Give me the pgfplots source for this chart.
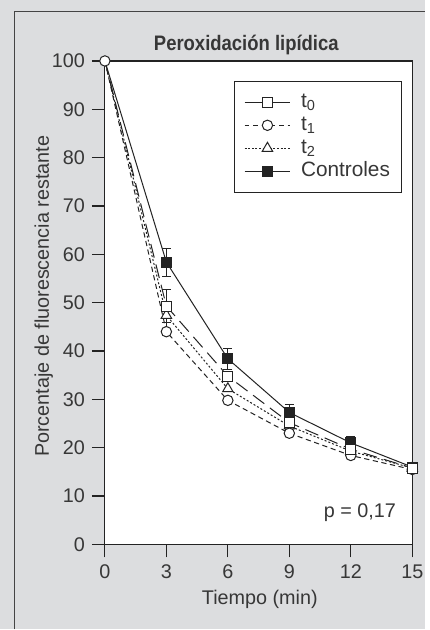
\documentclass[border=0pt]{standalone}
\usepackage{fontspec}
\setmainfont{Liberation Sans}
\newfontfamily\condfont[FakeStretch=0.88]{Liberation Sans}
\usepackage{pgfplots}
\pgfplotsset{compat=1.18}
\definecolor{bgc}{RGB}{220,221,223}
\definecolor{inkc}{RGB}{35,35,35}
\definecolor{txtc}{RGB}{55,55,55}

\begin{document}
\begin{tikzpicture}[x=1pt,y=1pt]
% grey panel, framed on the left and top only
\fill[bgc] (0,0) rectangle (212.5,315);
\draw[inkc!85, line width=0.65pt] (7.35,0) -- (7.35,309.15) -- (212.5,309.15);

\begin{axis}[
  at={(52.5pt,42.5pt)}, anchor=south west, scale only axis,
  width=153.85pt, height=242pt,
  xmin=0, xmax=15, ymin=0, ymax=100,
  xtick={0,3,...,15}, ytick={0,10,...,100},
  tick align=outside, tick pos=left, major tick length=6.5pt,
  axis line style={inkc, line width=0.6pt},
  every tick/.style={inkc, line width=0.6pt},
  axis background/.style={fill=white},
  font=\fontsize{9.9}{11.5}\selectfont,
  ticklabel style={txtc, font=\fontsize{9.9}{11.5}\selectfont},
  /pgf/number format/assume math mode=true,
  xlabel={Tiempo (min)}, ylabel={Porcentaje de fluorescencia restante},
  xlabel style={at={(axis description cs:0.504,-0.124)}, anchor=base, txtc},
  ylabel style={at={(axis description cs:-0.182,0.513)}, anchor=base, txtc},
  clip=false,
  legend style={at={(axis description cs:0.419,0.959)}, anchor=north west,
    draw=inkc, line width=0.5pt, fill=white, text=txtc,
    inner xsep=5pt, inner ysep=5.3pt, row sep=1.0pt, column sep=4.5pt,
    font=\fontsize{10.4}{12}\selectfont,
    nodes={text height=7.2pt, text depth=2.1pt, inner sep=0.6pt},
    cells={anchor=west}},
  legend image code/.code={%
    \draw[mark repeat=2, mark phase=2, #1]
      plot coordinates {(0pt,0pt) (11.4pt,0pt) (22.85pt,0pt)};},
  every axis plot/.append style={inkc, line width=0.5pt},
  error bars/error bar style={solid, line width=0.5pt},
  error bars/error mark options={rotate=90, mark size=2.25pt, line width=0.5pt},
]
% Controles
\addplot[solid, mark=square*, mark size=2.5pt, mark indices={2,3,4,5,6},
  mark options={solid, fill=inkc}, forget plot,
  error bars/.cd, y dir=both, y explicit]
  coordinates {(0,100) (3,58.4) +- (0,2.9) (6,38.4) +- (0,2.2)
               (9,27.3) +- (0,1.7) (12,21.0) +- (0,1.3) (15,16.0) +- (0,0.4)};
% t2
\addplot[dash pattern=on 1pt off 1pt, mark=triangle*, mark size=3pt,
  mark indices={2,3,4,5,6}, mark options={solid, fill=white}, forget plot]
  coordinates {(0,100) (3,47.4) (6,32.2) (9,24.5) (12,19.3) (15,15.8)};
% t1
\addplot[dash pattern=on 2.6pt off 1.8pt, mark=*, mark size=2.6pt,
  mark options={solid, fill=white}, forget plot,
  error bars/.cd, y dir=plus, y explicit]
  coordinates {(0,100) (3,44.0) +- (0,2.0) (6,29.8) (9,23.0) (12,18.4) (15,15.5)};
% t0
\addplot[dash pattern=on 7pt off 3.5pt, mark=square*, mark size=2.5pt,
  mark indices={2,3,4,5,6}, mark options={solid, fill=white}, forget plot,
  error bars/.cd, y dir=both, y explicit]
  coordinates {(0,100) (3,49.3) +- (0,3.5) (6,34.8) (9,25.2) (12,19.7) (15,15.8)};

\addlegendimage{solid, mark=square*, mark size=2.5pt, mark options={fill=white}}
\addlegendentry{t\textsubscript{0}}
\addlegendimage{dash pattern=on 2.3pt off 2pt, mark=*, mark size=2.6pt,
  mark options={solid, fill=white}}
\addlegendentry{t\textsubscript{1}}
\addlegendimage{dash pattern=on 1pt off 0.8pt, mark=triangle*, mark size=3pt,
  mark options={solid, fill=white}}
\addlegendentry{t\textsubscript{2}}
\addlegendimage{solid, mark=square*, mark size=2.5pt, mark options={fill=inkc}}
\addlegendentry{Controles}

\node[anchor=east, txtc] at (axis cs:14.55,6.6) {p = 0,17};
\node[anchor=base, txtc, font=\condfont\bfseries\fontsize{10.5}{12}\selectfont]
  at (axis description cs:0.46,1.0207) {Peroxidación lipídica};
\end{axis}
\path[use as bounding box] (0,0) rectangle (212.5,315);
\end{tikzpicture}
\end{document}
